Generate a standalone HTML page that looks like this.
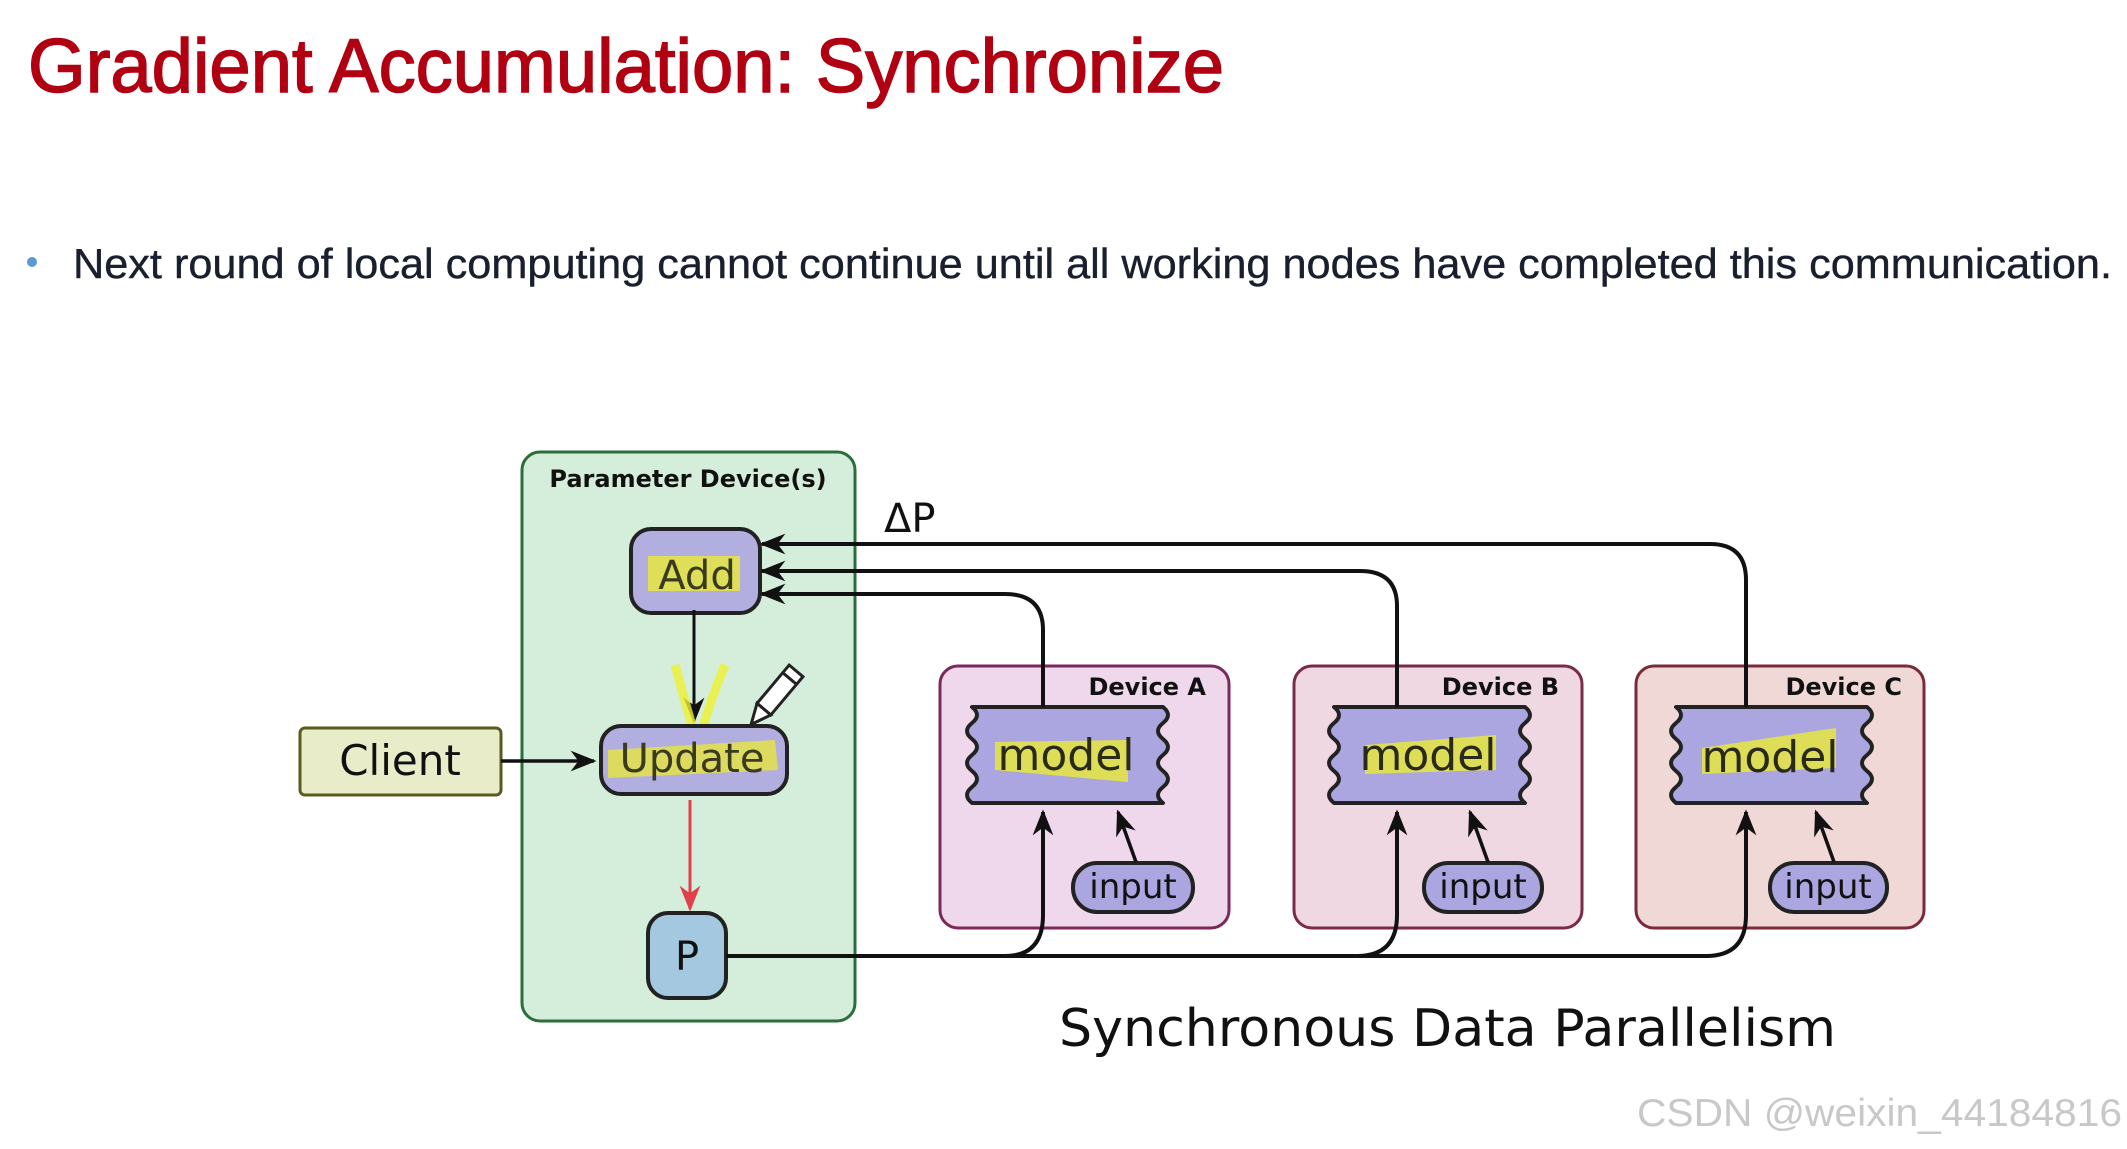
<!DOCTYPE html>
<html><head><meta charset="utf-8"><style>html,body{margin:0;padding:0;background:#fff;}svg{display:block}</style></head>
<body>
<svg width="2127" height="1149" viewBox="0 0 2127 1149" xmlns="http://www.w3.org/2000/svg" font-family="Liberation Sans, DejaVu Sans, sans-serif">
<defs>
<marker id="ahb" viewBox="0 0 20 20" refX="18" refY="10" markerWidth="26" markerHeight="26" markerUnits="userSpaceOnUse" orient="auto">
<path d="M0,2 L20,10 L0,18 L6,10 Z" fill="#111"/></marker>
<marker id="ahr" viewBox="0 0 20 20" refX="18" refY="10" markerWidth="26" markerHeight="26" markerUnits="userSpaceOnUse" orient="auto">
<path d="M0,2 L20,10 L0,18 L6,10 Z" fill="#e0404a"/></marker>
</defs>
<text x="28" y="92" font-size="76" fill="#b00012" stroke="#b00012" stroke-width="1.5" textLength="1196" lengthAdjust="spacingAndGlyphs">Gradient Accumulation: Synchronize</text>
<circle cx="32" cy="262" r="5" fill="#5b9bd5"/>
<text x="73" y="278" font-size="42" fill="#1a1f2e" stroke="#1a1f2e" stroke-width="0.4" textLength="2039" lengthAdjust="spacingAndGlyphs">Next round of local computing cannot continue until all working nodes have completed this communication.</text>

<!-- Parameter box -->
<rect x="522" y="452" width="333" height="569" rx="18" fill="#d4eedb" stroke="#2a6e3a" stroke-width="3"/>
<text x="688" y="487" font-size="24" font-weight="bold" fill="#111" text-anchor="middle" font-family="DejaVu Sans, sans-serif">Parameter Device(s)</text>

<!-- Client -->
<rect x="300" y="728" width="201" height="67" rx="5" fill="#e8ecc9" stroke="#5a5a20" stroke-width="3"/>
<text x="400" y="775" font-size="42" fill="#111" text-anchor="middle" font-family="DejaVu Sans, sans-serif">Client</text>
<line x1="501" y1="761" x2="594" y2="761" stroke="#111" stroke-width="3.5" marker-end="url(#ahb)"/>

<!-- Add -->
<rect x="631" y="529" width="129" height="84" rx="20" fill="#b3aee0" stroke="#222" stroke-width="4"/>
<rect x="648" y="556" width="92" height="35" fill="#e6e640" opacity="0.85"/>
<text x="697" y="589" font-size="40" fill="#3a3a20" text-anchor="middle" font-family="DejaVu Sans, sans-serif">Add</text>
<line x1="694" y1="610" x2="694" y2="721" stroke="#111" stroke-width="3" marker-end="url(#ahb)"/>
<path d="M675,665 Q690,720 698,745 Q710,700 725,665" fill="none" stroke="#eef030" stroke-width="9" opacity="0.8"/>

<!-- Update -->
<rect x="601" y="726" width="186" height="68" rx="20" fill="#b3aee0" stroke="#222" stroke-width="4"/>
<polygon points="608,750 775,740 778,770 608,778" fill="#e6e640" opacity="0.8"/>
<text x="692" y="772" font-size="40" fill="#3a3a20" text-anchor="middle" font-family="DejaVu Sans, sans-serif">Update</text>
<!-- pencil -->
<g transform="translate(780,690) rotate(40)">
<rect x="-9" y="-25" width="18" height="50" fill="#fff" stroke="#222" stroke-width="3"/>
<polygon points="-9,25 9,25 0,45" fill="#fff" stroke="#222" stroke-width="3"/>
<line x1="-9" y1="-15" x2="9" y2="-15" stroke="#222" stroke-width="3"/>
</g>

<line x1="690" y1="800" x2="690" y2="909" stroke="#e0404a" stroke-width="3" marker-end="url(#ahr)"/>

<!-- P -->
<rect x="648" y="913" width="78" height="85" rx="20" fill="#a3c8e0" stroke="#222" stroke-width="4"/>
<text x="687" y="970" font-size="40" fill="#111" text-anchor="middle" font-family="DejaVu Sans, sans-serif">P</text>

<!-- Devices -->
<rect x="940" y="666" width="289" height="262" rx="18" fill="#f0d8ec" stroke="#7a2a5a" stroke-width="3"/>
<rect x="1294" y="666" width="288" height="262" rx="18" fill="#f0d8e2" stroke="#7a2a4a" stroke-width="3"/>
<rect x="1636" y="666" width="288" height="262" rx="18" fill="#f0d8d6" stroke="#7a2a3a" stroke-width="3"/>
<g font-family="DejaVu Sans, sans-serif" font-size="24" font-weight="bold" fill="#111" text-anchor="end">
<text x="1206" y="695">Device A</text>
<text x="1559" y="695">Device B</text>
<text x="1902" y="695">Device C</text>
</g>

<!-- model boxes -->
<g stroke="#222" stroke-width="4" fill="#aba6e0" stroke-linejoin="round">
<path id="m" d="M972,707 H1163 q10,8 0,16 q-10,8 0,16 q10,8 0,16 q-10,8 0,16 q10,8 0,16 q-10,8 0,16 H972 q-10,-8 0,-16 q10,-8 0,-16 q-10,-8 0,-16 q10,-8 0,-16 q-10,-8 0,-16 q10,-8 0,-16 Z"/>
<use href="#m" x="362"/>
<use href="#m" x="704"/>
</g>
<g fill="#e6e640" opacity="0.85">
<polygon points="995,742 1128,740 1128,782 995,770"/>
<polygon points="1365,745 1496,735 1496,770 1365,774"/>
<polygon points="1702,748 1836,728 1836,768 1702,774"/>
</g>
<g font-family="DejaVu Sans, sans-serif" font-size="44" fill="#2a2a1a" text-anchor="middle">
<text x="1066" y="770">model</text>
<text x="1428" y="770">model</text>
<text x="1770" y="772">model</text>
</g>

<!-- inputs -->
<g stroke="#222" stroke-width="4" fill="#aba6e0">
<rect x="1073" y="863" width="120" height="49" rx="24"/>
<rect x="1424" y="863" width="118" height="49" rx="24"/>
<rect x="1770" y="863" width="117" height="49" rx="24"/>
</g>
<g font-family="DejaVu Sans, sans-serif" font-size="34" fill="#111" text-anchor="middle">
<text x="1133" y="898">input</text>
<text x="1483" y="898">input</text>
<text x="1828" y="898">input</text>
</g>
<g stroke="#111" stroke-width="3.5" marker-end="url(#ahb)">
<line x1="1136" y1="862" x2="1118" y2="812"/>
<line x1="1488" y1="862" x2="1470" y2="812"/>
<line x1="1834" y1="862" x2="1816" y2="812"/>
</g>

<!-- P lines -->
<g fill="none" stroke="#111" stroke-width="4">
<path d="M726,956 H1005 Q1043,956 1043,915 V812" marker-end="url(#ahb)"/>
<path d="M1000,956 H1357 Q1397,956 1397,915 V812" marker-end="url(#ahb)"/>
<path d="M1350,956 H1706 Q1746,956 1746,915 V812" marker-end="url(#ahb)"/>
<path d="M1043,707 V630 Q1043,594 1005,594 H762" marker-end="url(#ahb)"/>
<path d="M1397,707 V606 Q1397,571 1360,571 H762" marker-end="url(#ahb)"/>
<path d="M1746,707 V580 Q1746,544 1710,544 H762" marker-end="url(#ahb)"/>
</g>
<text x="884" y="532" font-size="40" fill="#111" font-family="DejaVu Sans, sans-serif">ΔP</text>

<text x="1059" y="1046" font-size="52" fill="#111" font-family="DejaVu Sans, sans-serif" textLength="777" lengthAdjust="spacingAndGlyphs">Synchronous Data Parallelism</text>
<text x="1637" y="1126" font-size="39" fill="#c8c8c8" textLength="485" lengthAdjust="spacingAndGlyphs">CSDN @weixin_44184816</text>
</svg>
</body></html>
